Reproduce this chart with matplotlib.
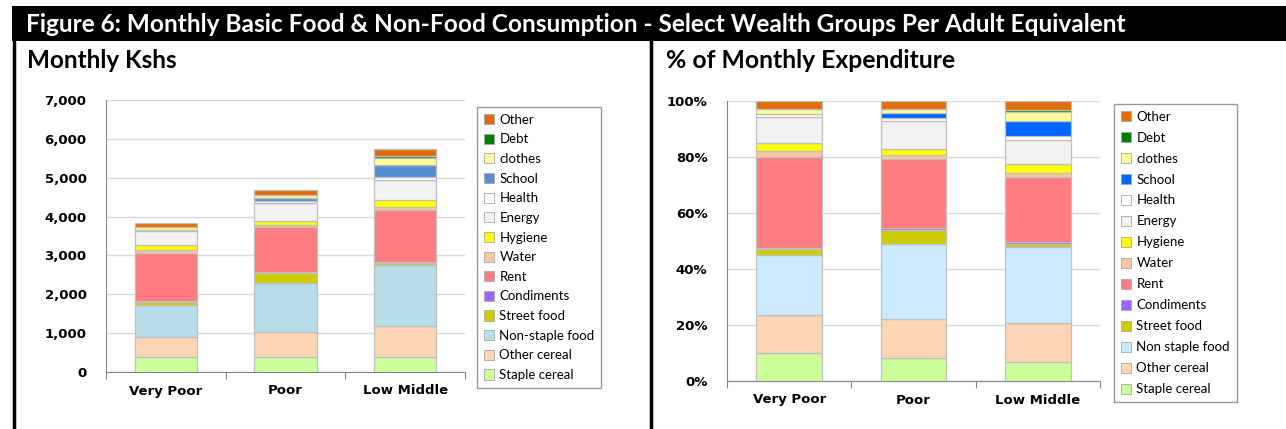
import numpy as np
import matplotlib
matplotlib.use("Agg")
import matplotlib.pyplot as plt
from matplotlib.patches import Rectangle, Patch
from matplotlib.lines import Line2D
from matplotlib.ticker import FuncFormatter

# Monthly basic food & non-food consumption per adult equivalent (Kshs)

groups = ["Very Poor", "Poor", "Low Middle"]

categories = ["Staple cereal", "Other cereal", "Non-staple food", "Street food",
              "Condiments", "Rent", "Water", "Hygiene", "Energy", "Health",
              "School", "clothes", "Debt", "Other"]

staple_cereal = [384, 389, 390]
other_cereal = [526, 652, 796]
non_staple_food = [815, 1262, 1559]
street_food = [81, 235, 57]
condiments = [23, 28, 40]
rent = [1244, 1154, 1335]
water = [77, 61, 69]
hygiene = [115, 113, 189]
energy = [357, 464, 498]
health = [35, 42, 86]
school = [0, 89, 309]
clothes = [69, 66, 178]
debt = [0, 0, 40]
other = [111, 136, 183]

series = [staple_cereal, other_cereal, non_staple_food, street_food, condiments,
          rent, water, hygiene, energy, health, school, clothes, debt, other]

colors_left = ["#CCFF99", "#FCD5B5", "#B7DDE8", "#CCCC00", "#9966FF", "#FF7C80",
               "#F8C6A0", "#FFFF00", "#F2F2F2", "#FFFFFF", "#558ED5", "#FFFF99",
               "#008000", "#E36C09"]
colors_right = ["#CCFF99", "#FCD5B5", "#CCE9FF", "#CCCC00", "#9966FF", "#FF7C80",
                "#F8C6A0", "#FFFF00", "#F2F2F2", "#FFFFFF", "#0066FF", "#FFFF99",
                "#008000", "#E36C09"]
labels_right = [c if c != "Non-staple food" else "Non staple food" for c in categories]

W, H = 1286, 429


def fx(px):
    return px / W


def fy(py):
    return 1 - py / H


fig = plt.figure(figsize=(W / 100, H / 100), dpi=100)
fig.patch.set_facecolor("white")

# header bar and frame lines
fig.add_artist(Rectangle((fx(12), fy(41)), fx(1286 - 12), 35 / H, transform=fig.transFigure,
                         facecolor="black", edgecolor="none"))
fig.add_artist(Line2D([fx(13.5), fx(13.5)], [0, fy(40)], transform=fig.transFigure,
                      color="black", lw=2.5))
fig.add_artist(Line2D([fx(651.5), fx(651.5)], [0, fy(40)], transform=fig.transFigure,
                      color="black", lw=2.5))

fig.text(fx(26), fy(24), "Figure 6: Monthly Basic Food & Non-Food Consumption - Select Wealth Groups Per Adult Equivalent",
         color="white", fontsize=17.6, fontweight="bold", family="Lato", va="center")
fig.text(fx(27), fy(60), "Monthly Kshs", fontsize=17.5, fontweight="bold", family="Lato", va="center")
fig.text(fx(666), fy(60), "% of Monthly Expenditure", fontsize=17.8, fontweight="bold", family="Lato", va="center")

data = np.array(series, dtype=float)
totals = data.sum(axis=0)
pct = data / totals * 100

x = np.arange(len(groups))


def draw_panel(ax, values, colors, labels, width, formatter, ylim, yticks, legend_box, spacing):
    bottom = np.zeros(len(groups))
    handles = []
    for vals, col, lab in zip(values, colors, labels):
        ax.bar(x, vals, width, bottom=bottom, color=col, edgecolor="#BFBFBF",
               linewidth=0.9, zorder=3)
        bottom += vals
        handles.append(Patch(facecolor=col, edgecolor="#A6A6A6", linewidth=0.6, label=lab))
    ax.set_xlim(-0.5, 2.5)
    ax.set_ylim(*ylim)
    ax.set_yticks(yticks)
    ax.yaxis.set_major_formatter(FuncFormatter(formatter))
    ax.grid(axis="y", color="#D9D9D9", lw=1, zorder=0)
    ax.set_axisbelow(True)
    for s in ["top", "right"]:
        ax.spines[s].set_visible(False)
    for s in ["left", "bottom"]:
        ax.spines[s].set_color("#868686")
    ax.set_xticks([-0.5, 0.5, 1.5, 2.5])
    ax.set_xticklabels([])
    ax.set_xticks(x, minor=True)
    ax.set_xticklabels(groups, minor=True, fontweight="bold", fontsize=9.5)
    ax.tick_params(axis="x", which="major", length=5, color="#868686", direction="out")
    ax.tick_params(axis="x", which="minor", length=0, pad=9)
    ax.tick_params(axis="y", length=0, labelsize=9.5, pad=14)
    for t in ax.get_yticklabels():
        t.set_fontweight("bold")
    leg = fig.legend(handles=handles[::-1], loc="upper left",
                     bbox_to_anchor=legend_box, bbox_transform=fig.transFigure,
                     fancybox=False, frameon=True, prop={"family": "Lato", "size": 9.5},
                     handlelength=0.8, handleheight=0.8, handletextpad=0.4,
                     labelspacing=spacing, borderpad=0.5, borderaxespad=0)
    leg.get_frame().set_edgecolor("#808080")
    leg.get_frame().set_linewidth(1.0)


ax1 = fig.add_axes([fx(106), fy(372), fx(465 - 106), (372 - 100) / H])
draw_panel(ax1, data, colors_left, categories, 0.52,
           lambda v, p: f"{v:,.0f}", (0, 7000), range(0, 7001, 1000),
           (fx(477), fy(107)), 0.58)

ax2 = fig.add_axes([fx(727), fy(381), fx(1100 - 727), (381 - 101) / H])
draw_panel(ax2, pct, colors_right, labels_right, 0.53,
           lambda v, p: f"{v:.0f}%", (0, 100), range(0, 101, 20),
           (fx(1114), fy(104)), 0.68)

fig.savefig("out.png", dpi=100)
